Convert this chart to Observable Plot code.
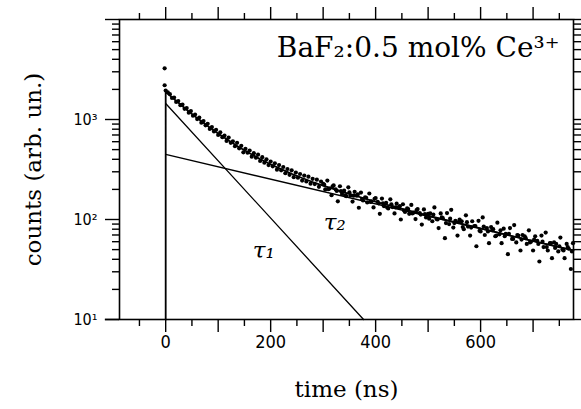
<!DOCTYPE html>
<html>
<head>
<meta charset="utf-8">
<script src="https://cdn.jsdelivr.net/npm/d3@7"></script>
<script src="https://cdn.jsdelivr.net/npm/@observablehq/plot@0.6"></script>
<style>
  html, body { margin: 0; padding: 0; background: #fff; }
  #chart svg { display: block; }
</style>
</head>
<body>
<div id="chart"></div>
<script>
// ---- data (time in ns, counts) ----
const spikePoints = [[-2, 3250], [-2, 2200]];
const decayEarly = [[0,1950],[4,1870],[8,1790],[12,1640],[16,1660],[20,1500],[24,1530],[28,1390],[32,1410],[36,1280],[40,1300],[44,1170],[48,1215],[52,1090],[56,1120],[60,1010],[64,1045],[68,930],[72,965],[76,875],[80,905],[84,805],[88,840],[92,760],[96,790],[100,700],[104,745],[108,665],[112,690],[116,610],[120,660],[124,585],[128,605],[132,540],[136,585],[140,515],[144,545],[148,470],[152,510],[156,465],[160,490],[164,425],[168,460],[172,415],[176,445],[180,385],[184,420],[188,370],[192,400],[196,350],[200,380],[204,340],[208,365],[212,315],[216,350],[220,310],[224,335],[228,290],[232,320],[236,280],[240,310],[244,265],[248,295],[252,262],[256,285],[260,245],[264,275],[268,240],[272,268],[276,228],[280,255],[284,226],[288,250],[292,212],[296,240]];
const decayMid = [[300,227],[304,200],[308,245],[312,204],[316,175],[320,219],[324,200],[328,152],[332,215],[336,180],[340,194],[344,171],[348,210],[352,174],[356,151],[360,189],[364,173],[368,131],[372,186],[376,155],[380,167],[384,148],[388,182],[392,152],[396,132],[400,164],[404,150],[408,114],[412,162],[416,136],[420,147],[424,129],[428,159],[432,133],[436,115],[440,144],[444,132],[448,100],[452,142],[456,119],[460,129],[464,114],[468,140],[472,117],[476,101],[480,127],[484,116],[488,89],[492,126],[496,105],[500,114]];
const decayLate = [[504,115],[508,96],[512,132],[516,101],[520,82],[524,115],[528,103],[532,65],[536,116],[540,90],[544,125],[548,83],[552,97],[556,69],[560,100],[564,96],[568,80],[572,110],[576,85],[580,69],[584,96],[588,86],[592,54],[596,97],[600,76],[604,105],[608,70],[612,82],[616,58],[620,84],[624,80],[628,68],[632,93],[636,71],[640,58],[644,81],[648,72],[652,45],[656,82],[660,64],[664,88],[668,59],[672,69],[676,49],[680,70],[684,68],[688,57],[692,78],[696,60],[700,49],[704,68],[708,61],[712,38],[716,69],[720,53],[724,74],[728,49],[732,58],[736,41],[740,59],[744,57],[748,48],[752,66],[756,50],[760,41],[764,57],[768,51],[772,32],[776,58]];
const decayExtra = [[302,223],[310,201],[318,215],[326,193],[334,192],[342,174],[350,187],[358,173],[366,178],[374,160],[382,165],[390,150],[398,161],[406,145],[414,145],[422,132],[430,142],[438,132],[446,136],[454,123],[462,127],[470,115],[478,124],[486,112],[494,113],[502,102],[510,112],[518,100],[526,105],[534,92],[542,102],[550,92],[558,94],[566,84],[574,94],[582,83],[590,86],[598,77],[606,85],[614,76],[622,78],[630,69],[638,78],[646,68],[654,72],[662,64],[670,70],[678,63],[686,65],[694,59],[702,63],[710,57],[718,60],[726,53],[734,58],[742,52],[750,54],[758,49],[766,53],[774,48]];

// fitted curves
const fitSum = [[0,10],[0,1892],[20,1533],[40,1253],[60,1033],[80,860],[100,724],[120,616],[140,529],[160,459],[180,403],[200,357],[220,319],[240,287],[260,260],[280,237],[300,218],[340,186.5],[400,150.5],[500,109.5],[600,81.3],[700,60.8],[777,49]];
const fitTau1 = [[0,1445],[377,10]];
const fitTau2 = [[0,447],[777,49]];

const tauLabels = [{t: 187, c: 49, label: "τ₁"}, {t: 322, c: 93, label: "τ₂"}];
const sampleLabel = "BaF₂:0.5 mol% Ce³⁺";
const xTitle = "time (ns)";
const yTitle = "counts (arb. un.)";

// ticks
const xMajor = [0,100,200,300,400,500,600,700];
const xLabeled = [0,200,400,600];
const xMinor = [-50,50,150,250,350,450,550,650,750];
const yMajor = [10,100,1000,10000];
const yLabelText = {10: "10¹", 100: "10²", 1000: "10³"};
const yMinor = [20,30,40,50,60,70,80,90,200,300,400,500,600,700,800,900,2000,3000,4000,5000,6000,7000,8000,9000];
const xAxisStart = [-115, -88];

const points = [...spikePoints, ...decayEarly, ...decayMid, ...decayExtra, ...decayLate];
const serif = "'DejaVu Serif', 'Liberation Serif', serif";
const narrow = "'Liberation Sans Narrow', 'DejaVu Sans Condensed', 'Arial Narrow', sans-serif";

const chart = Plot.plot({
  width: 581,
  height: 409,
  marginLeft: 119,
  marginRight: 8,
  marginTop: 19,
  marginBottom: 90,
  x: {domain: [-88, 777]},
  y: {type: "log", domain: [10, 10000]},
  marks: [
    Plot.frame({stroke: "black", strokeWidth: 1.6}),
    Plot.ruleY([10], {x1: xAxisStart[0], x2: xAxisStart[1], stroke: "black", strokeWidth: 1.6}),
    // bottom axis
    Plot.axisX({ticks: xMajor, anchor: "bottom", tickSize: 13, tickPadding: 3, label: null,
      tickFormat: d => xLabeled.includes(d) ? String(d) : "", fontSize: 18, fontFamily: narrow, strokeWidth: 1.4}),
    Plot.axisX({ticks: xMinor, anchor: "bottom", tickSize: 7, label: null, tickFormat: () => "", strokeWidth: 1.4}),
    // top axis
    Plot.axisX({ticks: xMajor, anchor: "top", tickSize: 13, label: null, tickFormat: () => "", strokeWidth: 1.4}),
    Plot.axisX({ticks: xMinor, anchor: "top", tickSize: 7, label: null, tickFormat: () => "", strokeWidth: 1.4}),
    // left axis
    Plot.axisY({ticks: yMajor, anchor: "left", tickSize: 14, tickPadding: 8, label: null,
      tickFormat: d => yLabelText[d] ?? "", fontSize: 16, fontFamily: narrow, strokeWidth: 1.4}),
    Plot.axisY({ticks: yMinor, anchor: "left", tickSize: 7, label: null, tickFormat: () => "", strokeWidth: 1.4}),
    // right axis
    Plot.axisY({ticks: yMajor, anchor: "right", tickSize: 14, label: null, tickFormat: () => "", strokeWidth: 1.4}),
    Plot.axisY({ticks: yMinor, anchor: "right", tickSize: 7, label: null, tickFormat: () => "", strokeWidth: 1.4}),
    // fits
    Plot.line(fitTau1, {x: d => d[0], y: d => d[1], stroke: "black", strokeWidth: 1.3}),
    Plot.line(fitTau2, {x: d => d[0], y: d => d[1], stroke: "black", strokeWidth: 1.3}),
    Plot.line(fitSum, {x: d => d[0], y: d => d[1], stroke: "black", strokeWidth: 1.8}),
    // data
    Plot.dot(points, {x: d => d[0], y: d => d[1], r: 2.1, fill: "black", stroke: null}),
    // annotations
    Plot.text(tauLabels, {x: "t", y: "c", text: "label", fontFamily: serif, fontStyle: "italic", fontSize: 23}),
    Plot.text([sampleLabel], {text: d => d, frameAnchor: "top-right", dx: -14, dy: 29, textAnchor: "end", lineAnchor: "middle", fontFamily: serif, fontSize: 28}),
    Plot.text([xTitle], {text: d => d, frameAnchor: "bottom", dy: 70, lineAnchor: "middle", fontFamily: serif, fontSize: 23}),
    Plot.text([yTitle], {text: d => d, frameAnchor: "left", dx: -86, rotate: -90, textAnchor: "middle", lineAnchor: "middle", fontFamily: serif, fontSize: 23})
  ]
});
document.getElementById("chart").append(chart);
</script>
</body>
</html>
